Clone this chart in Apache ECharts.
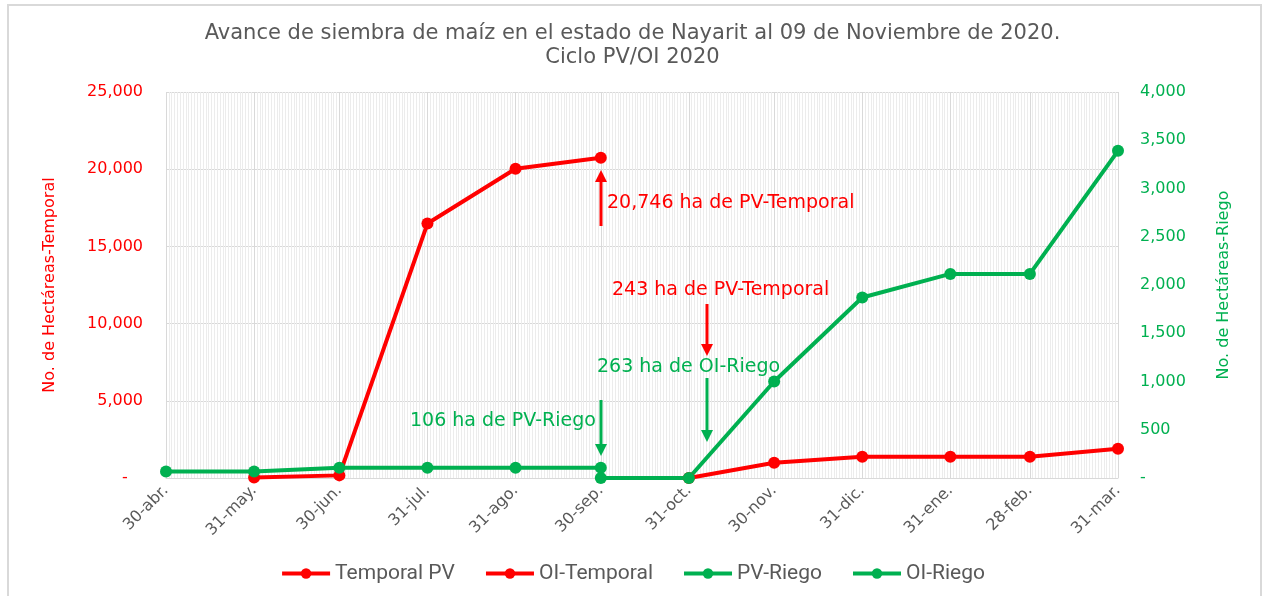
<!DOCTYPE html>
<html>
<head>
<meta charset="utf-8">
<script src="https://cdn.jsdelivr.net/npm/echarts@6/dist/echarts.min.js"></script>
<style>
html,body{margin:0;padding:0;background:#fff;}
#chart{width:1265px;height:596px;}
</style>
</head>
<body>
<div id="chart"></div>
<script>
// ---- data ----
const dates = ['2020-04-30','2020-05-31','2020-06-30','2020-07-31','2020-08-31','2020-09-30','2020-10-31','2020-11-30','2020-12-31','2021-01-31','2021-02-28','2021-03-31'];
const tickLabels = ['30-abr.','31-may.','30-jun.','31-jul.','31-ago.','30-sep.','31-oct.','30-nov.','31-dic.','31-ene.','28-feb.','31-mar.'];
const temporalPV = [null, 30, 170, 16480, 20030, 20746, null, null, null, null, null, null];
const oiTemporal = [null, null, null, null, null, null, 0, 990, 1380, 1380, 1380, 1900];
const pvRiego    = [68, 68, 106, 106, 106, 106, null, null, null, null, null, null];
const oiRiego    = [null, null, null, null, null, 0, 0, 1000, 1870, 2115, 2115, 3390];
const seriesNames = ['Temporal PV','OI-Temporal','PV-Riego','OI-Riego'];
const leftTicks = [0, 5000, 10000, 15000, 20000, 25000];
const rightTicks = [0, 500, 1000, 1500, 2000, 2500, 3000, 3500, 4000];

const DAY = 86400000;
const t0 = Date.parse(dates[0]);
const dayOf = d => Math.round((Date.parse(d) - t0) / DAY);
const xDays = dates.map(dayOf);
const xMax = xDays[xDays.length - 1];
const labelMap = {};
xDays.forEach((d, i) => labelMap[d] = tickLabels[i]);
const pairs = arr => arr.map((v, i) => v == null ? null : [xDays[i], v]).filter(p => p);

const RED = '#FF0000', GREEN = '#00B050', GRAY = '#595959';
const FONT = 'DejaVu Sans';
const fmtL = v => v === 0 ? '-   ' : v.toLocaleString('en-US');
const fmtR = v => v === 0 ? '-' : v.toLocaleString('en-US');

const chart = echarts.init(document.getElementById('chart'), null, {renderer: 'canvas'});

function lineSeries(name, data, color, yIdx) {
  return {
    name, type: 'line', data: pairs(data), xAxisIndex: 0, yAxisIndex: yIdx,
    symbol: 'circle', symbolSize: 12, showSymbol: true,
    lineStyle: {color, width: 4}, itemStyle: {color},
    emphasis: {disabled: true}, animation: false, z: 5
  };
}

const annotations = [
  {text: '20,746 ha de PV-Temporal', color: RED, x: 607, y: 203, ax: 601, ay1: 226, ay2: 170},
  {text: '243 ha de PV-Temporal', color: RED, x: 612, y: 290, ax: 707, ay1: 304, ay2: 356},
  {text: '263 ha de OI-Riego', color: GREEN, x: 597, y: 367, ax: 707, ay1: 378, ay2: 442},
  {text: '106 ha de PV-Riego', color: GREEN, x: 410, y: 421, ax: 601, ay1: 400, ay2: 456}
];
const graphics = [
  {type: 'rect', shape: {x: 8, y: 5, width: 1253, height: 620}, style: {fill: null, stroke: '#d9d9d9', lineWidth: 2}, z: 0, silent: true}
];
annotations.forEach(a => {
  graphics.push({type: 'text', x: a.x, y: a.y, style: {text: a.text, fill: a.color, font: '19px "' + FONT + '"', verticalAlign: 'middle'}, z: 10});
  const dir = a.ay2 < a.ay1 ? -1 : 1;
  const headLen = 12;
  graphics.push({type: 'line', shape: {x1: a.ax, y1: a.ay1, x2: a.ax, y2: a.ay2 - dir * headLen}, style: {stroke: a.color, lineWidth: 3}, z: 10});
  graphics.push({type: 'polygon', shape: {points: [[a.ax - 6, a.ay2 - dir * headLen], [a.ax + 6, a.ay2 - dir * headLen], [a.ax, a.ay2]]}, style: {fill: a.color}, z: 10});
});

chart.setOption({
  animation: false,
  backgroundColor: '#fff',
  title: {
    text: 'Avance de siembra de maíz en el estado de Nayarit al 09 de Noviembre de 2020.\nCiclo PV/OI 2020',
    left: 'center', top: 17,
    textStyle: {fontFamily: FONT, fontSize: 21, fontWeight: 'normal', color: GRAY, lineHeight: 24}
  },
  legend: {
    data: seriesNames, top: 558, left: 'center',
    itemWidth: 48, itemHeight: 13, itemGap: 29,
    lineStyle: {width: 4},
    textStyle: {fontFamily: 'Roboto', fontSize: 21, color: GRAY}
  },
  grid: {left: 166, right: 147, top: 92, bottom: 118, containLabel: false},
  xAxis: [
    {
      type: 'value', min: 0, max: xMax, z: 3,
      axisLine: {show: true, lineStyle: {color: '#d9d9d9', width: 1}},
      axisTick: {show: false, customValues: xDays},
      axisLabel: {customValues: xDays, formatter: v => labelMap[v] || '', rotate: 45, margin: 10, fontFamily: FONT, fontSize: 16, color: GRAY},
      splitLine: {show: true, lineStyle: {color: '#d9d9d9', width: 1}}
    },
    {
      type: 'value', min: 0, max: xMax, interval: 1, z: 1,
      axisLine: {show: false}, axisTick: {show: false}, axisLabel: {show: false},
      splitLine: {show: true, lineStyle: {color: '#ececec', width: 1}}
    }
  ],
  yAxis: [
    {
      type: 'value', min: 0, max: 25000, interval: 5000, position: 'left',
      name: 'No. de Hectáreas-Temporal', nameLocation: 'middle', nameRotate: 90, nameGap: 108,
      nameTextStyle: {fontFamily: FONT, fontSize: 16, color: RED},
      axisLine: {show: false}, axisTick: {show: false},
      axisLabel: {formatter: fmtL, margin: 23, fontFamily: FONT, fontSize: 16, color: RED},
      splitLine: {show: true, lineStyle: {color: '#d9d9d9', width: 1}}
    },
    {
      type: 'value', min: 0, max: 4000, interval: 500, position: 'right',
      name: 'No. de Hectáreas-Riego', nameLocation: 'middle', nameRotate: 90, nameGap: 98,
      nameTextStyle: {fontFamily: FONT, fontSize: 16, color: GREEN},
      axisLine: {show: false}, axisTick: {show: false},
      axisLabel: {formatter: fmtR, margin: 22, fontFamily: FONT, fontSize: 16, color: GREEN},
      splitLine: {show: false}
    }
  ],
  series: [
    lineSeries(seriesNames[0], temporalPV, RED, 0),
    lineSeries(seriesNames[1], oiTemporal, RED, 0),
    lineSeries(seriesNames[2], pvRiego, GREEN, 1),
    lineSeries(seriesNames[3], oiRiego, GREEN, 1)
  ],
  graphic: graphics
});
</script>
</body>
</html>
